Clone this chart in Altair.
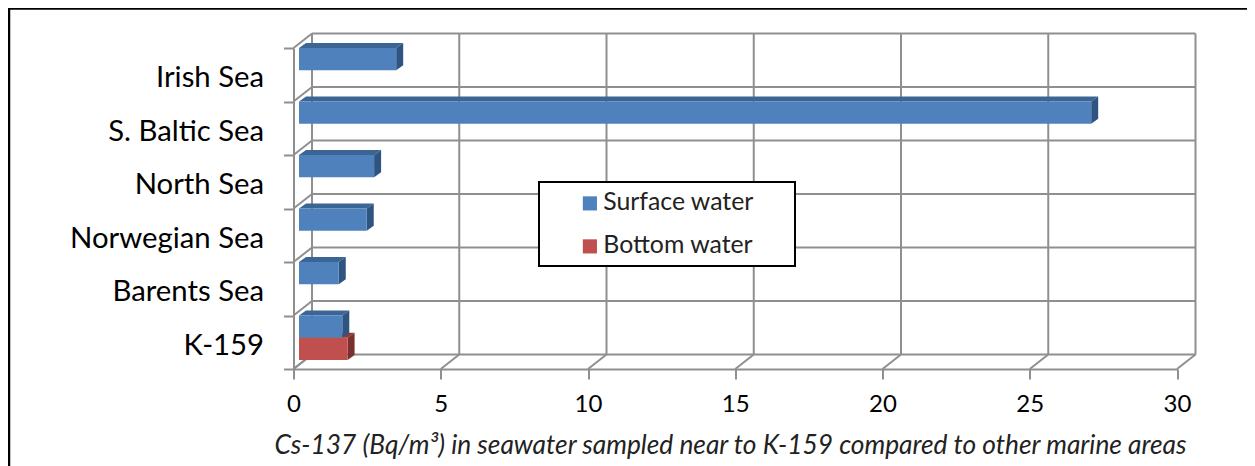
import altair as alt
import pandas as pd

categories = ["Irish Sea", "S. Baltic Sea", "North Sea", "Norwegian Sea", "Barents Sea", "K-159"]
surface_water = [3.3, 26.9, 2.55, 2.3, 1.35, 1.47]
bottom_water = [None, None, None, None, None, 1.65]
x_ticks = [0, 5, 10, 15, 20, 25, 30]
x_title = "Cs-137 (Bq/m³) in seawater sampled near to K-159 compared to other marine areas"

W, H = 883.5, 321
PX = 30 / W
PY = 6 / H
FONT = "Lato"
GRID = "#8f8f8f"

wall_dx, wall_dy = 18.5 * PX, 14.5 * PY
bar_start = 5.5 * PX
bar_dx, bar_dy = 7 * PX, 5 * PY
bar_h = 22.2 * PY

# ---- 3-D wall grid
segs = []
n = len(categories)
for v in x_ticks:
    segs.append(dict(a=v + wall_dx, b=v + wall_dx, c=wall_dy, d=n + wall_dy))
    segs.append(dict(a=v, b=v + wall_dx, c=0, d=wall_dy))
for k in range(n + 1):
    segs.append(dict(a=wall_dx, b=30 + wall_dx, c=k + wall_dy, d=k + wall_dy))
    segs.append(dict(a=0, b=wall_dx, c=k, d=k + wall_dy))
seg_df = pd.DataFrame(segs)

axis_common = dict(
    grid=False, domainColor=GRID, domainWidth=2, tickColor=GRID, tickWidth=2, tickSize=10,
    labelColor="black", labelFont=FONT, labelLimit=400,
)
x_axis = alt.Axis(values=x_ticks, format="d", labelFontSize=24, labelPadding=13, labelFlush=False,
                  titleFont=FONT, titleFontStyle="italic", titleFontWeight="normal",
                  titleFontSize=26.3, titleColor="#222222", titleX=436.5, titleY=76, titleLimit=1200,
                  titleBaseline="middle", **axis_common)
x_scale = alt.Scale(domain=[0, 30], nice=False, zero=False)
y_scale = alt.Scale(domain=[0, n], nice=False, zero=False)


def X(field):
    return alt.X(field, scale=x_scale, axis=x_axis, title=x_title)


y_q = alt.Y("c:Q", scale=y_scale, axis=None)

grid = alt.Chart(seg_df).mark_rule(color=GRID, strokeWidth=2).encode(
    x=X("a:Q"), x2="b:Q", y=y_q, y2="d:Q"
)

# ---- category axis
axes = alt.Chart(pd.DataFrame({"cat": categories, "val": surface_water})).mark_point(opacity=0).encode(
    x=X("val:Q"),
    y=alt.Y("cat:N", sort=categories, title=None,
            scale=alt.Scale(domain=categories, paddingInner=0, paddingOuter=0),
            axis=alt.Axis(tickBand="extent", labelFontSize=29.3, labelPadding=20, labelOffset=3, **axis_common)),
)

# ---- bars
rows = []
for i, cat in enumerate(categories):
    top = n - i
    for j, (name, vals) in enumerate([("Surface water", surface_water), ("Bottom water", bottom_water)]):
        v = vals[i]
        if v is None:
            continue
        rows.append(dict(cat=cat, series=name, x0=bar_start, x1=bar_start + v,
                         y1=top - j * bar_h, y0=top - (j + 1) * bar_h))
bars = pd.DataFrame(rows)

tops, sides = [], []
for r in rows:
    bid = r["cat"] + r["series"]
    lo, hi = r["y1"], r["y1"] + bar_dy
    for a, c, d in [(r["x0"], lo, lo), (r["x0"] + bar_dx, lo, hi), (r["x1"], lo, hi), (r["x1"] + bar_dx, hi, hi)]:
        tops.append(dict(id=bid, series=r["series"], a=a, c=c, d=d))
    for t in (0, 1):
        sides.append(dict(id=bid, series=r["series"], a=r["x1"] + t * bar_dx, c=r["y0"] + t * bar_dy, d=r["y1"] + t * bar_dy))
tops, sides = pd.DataFrame(tops), pd.DataFrame(sides)

shades = {"Bottom water": ("#8e3a38", "#7a302e"), "Surface water": ("#3b6595", "#2f5481")}
faces = []
for name, (top_c, side_c) in shades.items():
    faces.append(alt.Chart(tops[tops.series == name]).mark_area(orient="vertical", color=top_c).encode(
        x=X("a:Q"), y=y_q, y2="d:Q", detail="id:N"))
    faces.append(alt.Chart(sides[sides.series == name]).mark_area(orient="vertical", color=side_c).encode(
        x=X("a:Q"), y=y_q, y2="d:Q", detail="id:N"))

legend_box = alt.Chart(pd.DataFrame({"k": [0]})).mark_rect(fill="white", stroke="black", strokeWidth=2).encode(
    x=alt.value(245.5), x2=alt.value(501.5), y=alt.value(134), y2=alt.value(218)
)

front = alt.Chart(bars).mark_rect().encode(
    x=X("x0:Q"),
    x2="x1:Q",
    y=alt.Y("y0:Q", scale=y_scale, axis=None),
    y2="y1:Q",
    color=alt.Color("series:N",
                    scale=alt.Scale(domain=["Surface water", "Bottom water"], range=["#4f81bd", "#c0504d"]),
                    legend=alt.Legend(title=None, orient="none", legendX=284, legendY=143,
                                      symbolType="square", symbolSize=200, symbolStrokeWidth=0,
                                      labelFont=FONT, labelFontSize=24.8, labelColor="#222222",
                                      labelOffset=1, rowPadding=17, labelLimit=300)),
)

# ---- outer frame
frame_left = alt.Chart(pd.DataFrame({"k": [0]})).mark_rule(color="black", strokeWidth=2.5).encode(
    x=alt.value(-284.5), y=alt.value(-40), y2=alt.value(420))
frame_top = alt.Chart(pd.DataFrame({"k": [0]})).mark_rule(color="black", strokeWidth=2.5).encode(
    x=alt.value(-285.5), x2=alt.value(962), y=alt.value(-39.5))

chart = alt.layer(frame_left, frame_top, grid, axes, *faces, legend_box, front).resolve_scale(
    y="independent"
).properties(
    width=W, height=H,
    padding={"left": 285.5, "top": 40, "right": 70, "bottom": 97},
    autosize=alt.AutoSizeParams(type="none"),
    background="white",
).configure_view(stroke=None)

chart.save("out.html", embed_options={"renderer": "svg", "actions": False})
